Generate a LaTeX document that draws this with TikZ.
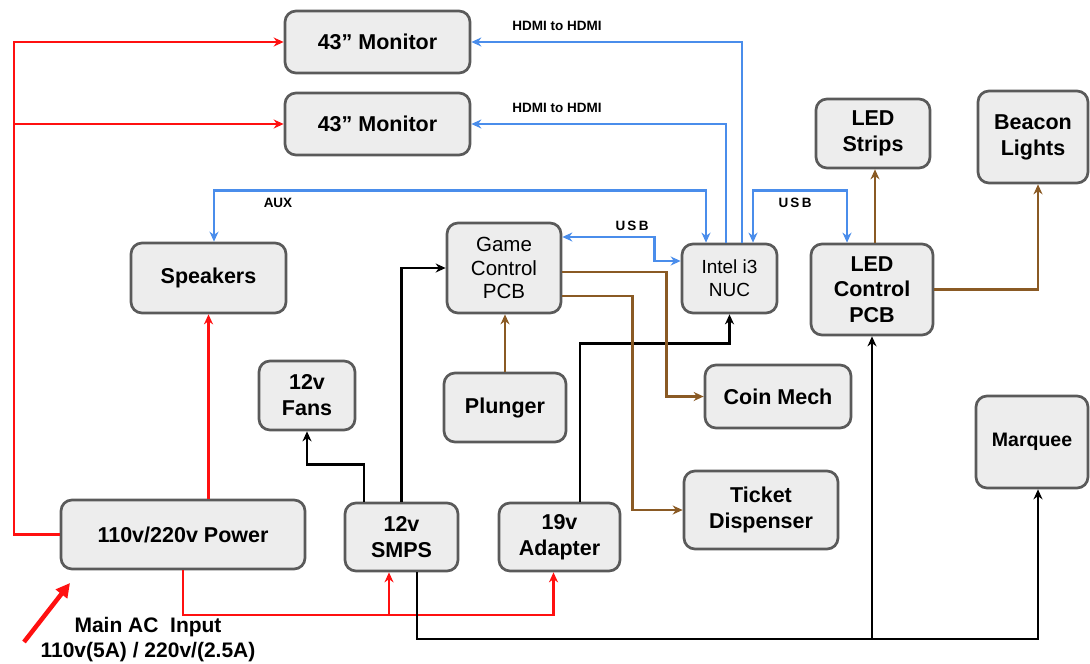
\documentclass[tikz,border=0pt]{standalone}
\usepackage{fontspec}
\setmainfont{Liberation Sans}
\usetikzlibrary{arrows.meta}
\definecolor{pred}{HTML}{FF1010}
\definecolor{pblue}{HTML}{4A8DEB}
\definecolor{pbrown}{HTML}{8A5A24}
\definecolor{bfill}{HTML}{EDEDED}
\definecolor{bline}{HTML}{5A5A5A}
\tikzset{
  box/.style={draw=bline, fill=bfill, line width=2.7pt, rounded corners=11pt,
    inner sep=0pt, align=center, font=\fontsize{21.5}{26}\selectfont\bfseries},
  boxr/.style={box, font=\fontsize{20.5}{23.5}\selectfont},
  tip/.style={-{Stealth[length=10pt,width=9pt]}},
  dtip/.style={{Stealth[length=10pt,width=9pt]}-{Stealth[length=10pt,width=9pt]}},
  pr/.style={draw=pred, line width=2.8pt, tip},
  bk/.style={draw=black, line width=2.8pt, tip},
  br/.style={draw=pbrown, line width=2.8pt, tip},
  bl/.style={draw=pblue, line width=2.8pt, tip},
  bld/.style={draw=pblue, line width=2.8pt, dtip},
  lbl/.style={font=\fontsize{13.5}{15}\selectfont\bfseries, inner sep=0pt},
  actext/.style={font=\fontsize{21}{24}\selectfont\bfseries, inner sep=0pt},
}
\begin{document}
\begin{tikzpicture}[x=1pt,y=-1pt]
\useasboundingbox (0,0) rectangle (1090,664);
% nodes
\node[box, minimum width=185pt, minimum height=62pt] (m1) at (377.5,42) {43” Monitor};
\node[box, minimum width=185pt, minimum height=62pt] (m2) at (377.5,124) {43” Monitor};
\node[box, minimum width=155pt, minimum height=70pt] (sp) at (208.5,278) {Speakers};
\node[boxr, minimum width=114pt, minimum height=90pt] (gc) at (504,268) {Game\\Control\\PCB};
\node[boxr, font=\fontsize{19}{23}\selectfont, minimum width=95pt, minimum height=69pt] (nuc) at (729.5,278.5) {Intel i3\\NUC};
\node[box, minimum width=114pt, minimum height=69pt] (ls) at (873,133.5) {LED\\Strips};
\node[box, minimum width=110pt, minimum height=92pt] (bcn) at (1033,137) {Beacon\\Lights};
\node[box, font=\fontsize{21.5}{25.5}\selectfont\bfseries, minimum width=122pt, minimum height=91pt] (lc) at (872,289.5) {LED\\Control\\PCB};
\node[box, minimum width=96pt, minimum height=69pt] (fans) at (307,395.5) {12v\\Fans};
\node[box, minimum width=122pt, minimum height=69pt] (pl) at (505,407.5) {Plunger};
\node[box, minimum width=244pt, minimum height=69pt] (pw) at (183,534.5) {110v/220v Power};
\node[box, minimum width=113pt, minimum height=68pt] (sm) at (401.5,537) {12v\\SMPS};
\node[box, minimum width=121pt, minimum height=68pt] (ad) at (559.5,537) {19v\\Adapter};
\node[box, minimum width=146pt, minimum height=63pt] (cm) at (778,396.5) {Coin Mech};
\node[box, minimum width=154pt, minimum height=78pt] (td) at (761,510) {Ticket\\Dispenser};
\node[box, font=\fontsize{19.5}{23}\selectfont\bfseries, minimum width=112pt, minimum height=92pt] (mq) at (1032,442) {Marquee};
% red power lines
\coordinate (rb) at (14,124);
\draw[pr] (pw.west) -- (14,534.5) -- (14,42) -- (m1.west);
\draw[pr] (rb) -- (m2.west);
\draw[pr] (pw.north -| sp.south) -- (sp.south);
\draw[pr] (pw.south) |- (553.5,615) -- ([xshift=-6pt]ad.south);
\draw[pr] (389,615) -- ([xshift=-12.5pt]sm.south);
% black lines
\draw[bk] ([xshift=-37.5pt]sm.north) -- ++(0,-37) -| (fans.south);
\draw[bk] (sm.north) |- (gc.west);
\coordinate (bj) at (872,639);
\draw[bk] ([xshift=15.5pt]sm.south) |- (bj) -| ([xshift=6pt]mq.south);
\draw[bk] (bj) -- (lc.south);
\draw[bk] ([xshift=20.5pt]ad.north) -- ++(0,-158) -| (nuc.south);
% brown lines
\draw[br] (pl.north) -- (pl.north |- gc.south);
\draw[br] ([yshift=-4pt]gc.east) -- ++(104,0) |- (cm.west);
\draw[br] ([yshift=-28pt]gc.east) -- ++(70,0) |- (td.west);
\draw[br] ([xshift=3pt]lc.north) -- ([xshift=3pt]lc.north |- ls.south);
\draw[br] (lc.east) -| ([xshift=5pt]bcn.south);
% blue lines
\draw[bl] ([xshift=12.5pt]nuc.north) |- (m1.east);
\draw[bl] ([xshift=-3.5pt]nuc.north) |- (m2.east);
\draw[bld] ([xshift=-23.5pt]nuc.north) -- ++(0,-52) -| ([xshift=5.5pt]sp.north);
\draw[bld] ([yshift=31pt]gc.east) -- ++(92,0) |- ([yshift=17.5pt]nuc.west);
\draw[bld] ([xshift=23.5pt]nuc.north) -- ++(0,-52) -| ([xshift=-25pt]lc.north);
% labels
\node[lbl] (h1) at (557,26) {HDMI to HDMI};
\node[lbl] (h2) at (557,108) {HDMI to HDMI};
\node[lbl] (aux) at (278,203) {AUX};
\node[lbl] (usb1) at (632,226) {U\,S\,B};
\node[lbl] (usb2) at (795,203) {U\,S\,B};
% main AC input
\coordinate (acs) at (24,642);
\coordinate (ace) at (70,583);
\draw[draw=pred, line width=4.5pt, -{Triangle[length=14pt,width=14pt]}] (acs) -- (ace);
\node[actext] (ac1) at (148,627) {Main AC\ \ Input};
\node[actext] (ac2) at (148,652) {110v(5A) / 220v/(2.5A)};
\end{tikzpicture}
\end{document}
